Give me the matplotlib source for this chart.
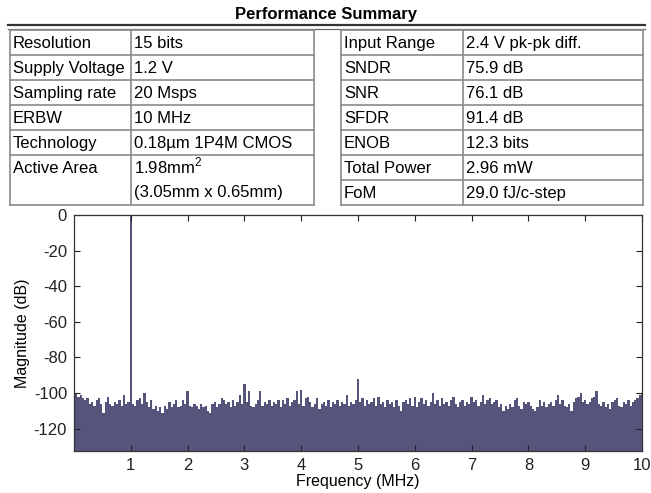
import matplotlib.pyplot as plt
import numpy as np

plt.rcParams['font.family'] = ['Liberation Sans', 'DejaVu Sans']
plt.rcParams['mathtext.fontset'] = 'custom'
plt.rcParams['mathtext.rm'] = 'Liberation Sans'
plt.rcParams['axes.unicode_minus'] = False

# таблиця параметрів
left_labels = ["Resolution", "Supply Voltage", "Sampling rate", "ERBW", "Technology", "Active Area"]
left_values = ["15 bits", "1.2 V", "20 Msps", "10 MHz", "0.18\u00b5m 1P4M CMOS", "1.98mm$^2$"]
left_extra = "(3.05mm x 0.65mm)"
right_labels = ["Input Range", "SNDR", "SNR", "SFDR", "ENOB", "Total Power", "FoM"]
right_values = ["2.4 V pk-pk diff.", "75.9 dB", "76.1 dB", "91.4 dB", "12.3 bits", "2.96 mW", "29.0 fJ/c-step"]

# спектр, крок 0.04 МГц, 0..10 МГц
freq_step = 0.04
magnitude_db = [
    -99, -100, -102, -101, -103, -104, -103, -106, -105, -107,
    -104, -103, -106, -111, -105, -102, -106, -107, -105, -106,
    -104, -107, -101, -106, -105,
    0,
    -106, -107, -104, -103, -106, -100, -105, -108, -104, -109,
    -107, -110, -108, -111, -107, -109, -105, -108, -106, -104,
    -108, -107, -104, -106,
    -99, -107, -108, -106, -107, -109, -106, -108, -107, -110,
    -111, -106, -105, -108, -106, -103, -104, -106, -105, -108,
    -104, -107, -105, -101, -106,
    -95, -105, -99, -107, -108, -106, -104, -99, -107, -105,
    -106, -104, -107, -105, -106, -104, -108, -104, -106, -103,
    -107, -105, -104, -99, -106,
    -98, -107, -103, -102, -105, -108, -106, -103, -109, -106,
    -105, -107, -104, -108, -105, -106, -104, -107, -105, -106,
    -101, -107, -105, -106, -104,
    -92, -105, -103, -107, -104, -106, -105, -103, -107, -102,
    -106, -105, -108, -104, -106, -105, -108, -104, -107, -110,
    -105, -104, -106, -103, -107,
    -102, -108, -105, -103, -106, -104, -107, -105, -100, -106,
    -104, -107, -103, -106, -105, -107, -104, -102, -106, -108,
    -105, -104, -107, -105, -106,
    -102, -105, -104, -107, -105, -101, -106, -104, -103, -106,
    -105, -104, -108, -106, -110, -107, -109, -106, -108, -104,
    -103, -107, -109, -105, -106,
    -105, -107, -109, -110, -108, -104, -107, -105, -108, -106,
    -105, -107, -104, -101, -106, -104, -107, -108, -106, -110,
    -105, -103, -102, -100, -105,
    -104, -106, -105, -103, -102, -99, -106, -107, -105, -108,
    -106, -109, -105, -104, -103, -107, -108, -105, -106, -104,
    -107, -105, -104, -103, -101,
    -100,
]
freq = np.arange(len(magnitude_db)) * freq_step

W, H = 651, 493
fig = plt.figure(figsize=(W / 100, H / 100), dpi=100)

# графік спектра
ax = fig.add_axes([74 / W, 1 - 451 / H, 568 / W, 236 / H])
ax.fill_between(freq, magnitude_db, -140, step='mid', color='#55557b', lw=0)
ax.set_xlim(0, 10)
ax.set_ylim(-132.5, 0)
ax.set_xticks(range(1, 11))
ax.set_yticks(range(-120, 1, 20))
ax.tick_params(direction='in', top=True, right=True, length=4, width=0.8,
               labelsize=12, colors='#222222', pad=5)
for s in ax.spines.values():
    s.set_color('#333333')
    s.set_linewidth(0.9)
ax.set_xlabel('Frequency (MHz)', fontsize=11.5, labelpad=1)
ax.set_ylabel('Magnitude (dB)', fontsize=11.5, labelpad=3)

# таблиця зверху, у пікселях
ov = fig.add_axes([0, 0, 1, 1])
ov.set_xlim(0, W)
ov.set_ylim(H, 0)
ov.axis('off')

ov.text(326, 15, 'Performance Summary', ha='center', va='center',
        fontsize=12, fontweight='bold')
ov.plot([8, 645], [25, 25], color='#333333', lw=1.6)
ov.plot([8, 645], [28.5, 28.5], color='#666666', lw=0.9)

line_c = '#8a8a8a'
row_h = 25
top = 30


def draw_table(x0, xd, x1, labels, values, spans):
    y = top
    edges = [y]
    for sp in spans:
        y += sp * row_h
        edges.append(y)
    for e in edges:
        ov.plot([x0, x1], [e, e], color=line_c, lw=1.2)
    for xx in (x0, xd, x1):
        ov.plot([xx, xx], [edges[0], edges[-1]], color=line_c, lw=1.2)
    for lab, val, e in zip(labels, values, edges[:-1]):
        ov.text(x0 + 3, e + 18, lab, fontsize=12, va='baseline')
        ov.text(xd + 3, e + 18, val, fontsize=12, va='baseline')
    return edges


left_edges = draw_table(10, 131, 314, left_labels, left_values, [1, 1, 1, 1, 1, 2])
ov.text(134, left_edges[-2] + row_h + 17, left_extra, fontsize=12, va='baseline')
draw_table(341, 463, 643, right_labels, right_values, [1] * 7)

fig.savefig('out.png', dpi=100)
